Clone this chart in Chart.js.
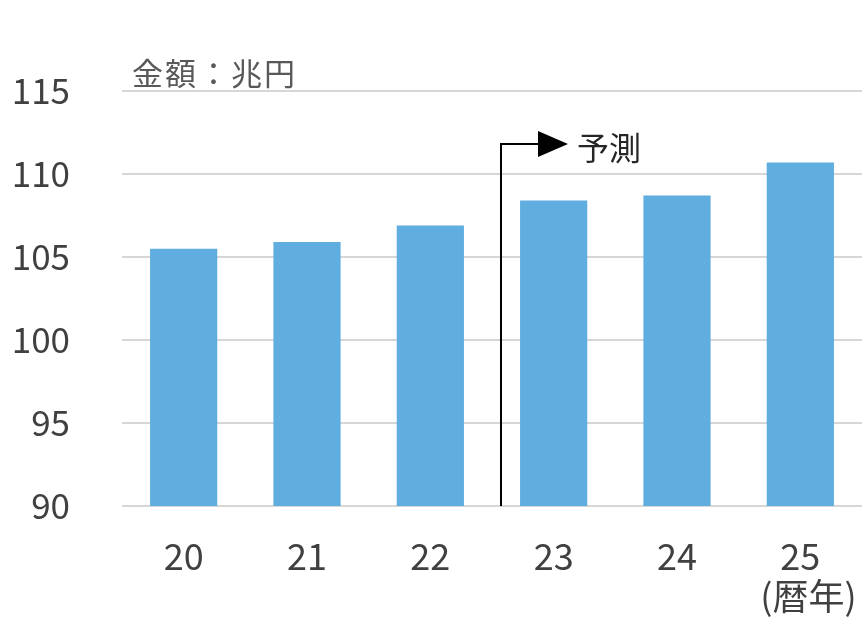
<!DOCTYPE html>
<html>
<head>
<meta charset="utf-8">
<script src="https://cdn.jsdelivr.net/npm/chart.js@4"></script>
<style>
  html, body { margin: 0; padding: 0; background: #fff; }
  #wrap { width: 864px; height: 622px; }
</style>
</head>
<body>
<div id="wrap"><canvas id="marketChart"></canvas></div>
<script>
const years = ['20', '21', '22', '23', '24', ['25', '  (暦年)']];
const amounts = [105.5, 105.9, 106.9, 108.4, 108.7, 110.7];
const yTicks = [90, 95, 100, 105, 110, 115];

const FONT = '"Noto Sans CJK JP", "Noto Sans", sans-serif';

// 単位と「予測」の矢印
const annotations = {
    id: 'annotations',
    afterDraw(chart) {
        const ctx = chart.ctx;
        const x = chart.scales.x;
        const area = chart.chartArea;

        ctx.save();
        ctx.fillStyle = '#595959';
        ctx.font = '31px ' + FONT;
        ctx.textBaseline = 'middle';
        ctx.letterSpacing = '2px';
        ctx.fillText('金額：兆円', area.left + 10, area.top - 18);
        ctx.letterSpacing = '0px';

        let lx = (x.getPixelForValue(2) + x.getPixelForValue(3)) / 2 + 9;
        let ly = area.top + 53;
        ctx.strokeStyle = '#000';
        ctx.lineWidth = 2;
        ctx.beginPath();
        ctx.moveTo(lx, area.bottom);
        ctx.lineTo(lx, ly);
        ctx.lineTo(lx + 40, ly);
        ctx.stroke();
        ctx.fillStyle = '#000';
        ctx.beginPath();
        ctx.moveTo(lx + 37, ly - 13);
        ctx.lineTo(lx + 67, ly);
        ctx.lineTo(lx + 37, ly + 13);
        ctx.closePath();
        ctx.fill();

        ctx.fillStyle = '#262626';
        ctx.font = '32px ' + FONT;
        ctx.fillText('予測', lx + 76, ly + 4);
        ctx.restore();
    }
};

new Chart(document.getElementById('marketChart'), {
    type: 'bar',
    data: {
        labels: years,
        datasets: [{
            data: amounts,
            backgroundColor: '#60aee0',
            barPercentage: 0.545,
            categoryPercentage: 1
        }]
    },
    options: {
        responsive: true,
        maintainAspectRatio: false,
        animation: false,
        layout: { padding: { top: 91, right: 2, left: 0, bottom: 0 } },
        plugins: {
            legend: { display: false },
            tooltip: { enabled: false }
        },
        scales: {
            x: {
                grid: { display: false },
                border: { display: false },
                afterFit: scale => {
                    scale.height = 116;
                    scale.paddingLeft = 0;
                    scale.paddingRight = 0;
                },
                ticks: {
                    color: '#404040',
                    font: { family: FONT, size: 36, lineHeight: 1.1 },
                    padding: 23,
                    maxRotation: 0
                }
            },
            y: {
                min: 90,
                max: 115,
                afterBuildTicks: scale => {
                    scale.ticks = yTicks.map(v => ({ value: v }));
                },
                afterFit: scale => { scale.width = 122; },
                grid: { color: '#d6d6d6', lineWidth: 2, drawTicks: false },
                border: { display: false },
                ticks: {
                    color: '#404040',
                    font: { family: FONT, size: 35 },
                    padding: 52
                }
            }
        }
    },
    plugins: [annotations]
});
</script>
</body>
</html>
